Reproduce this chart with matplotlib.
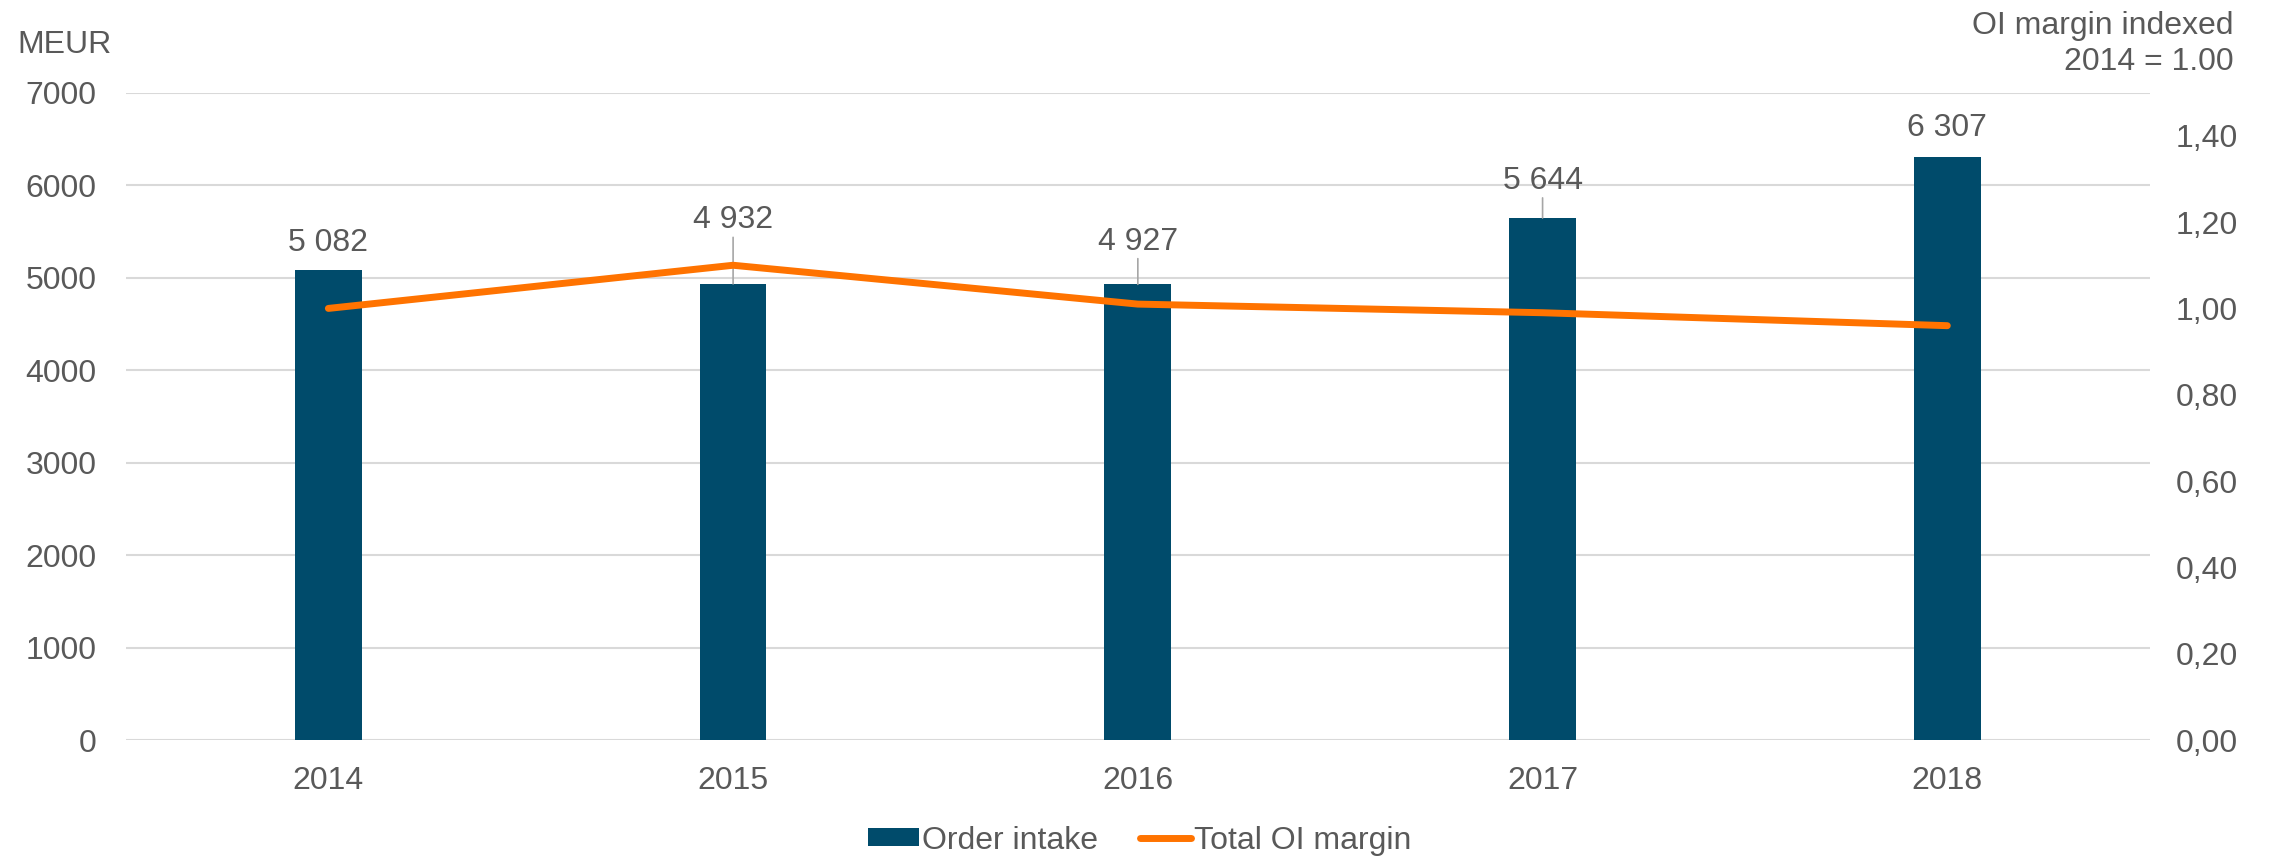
#!/usr/bin/env python
import matplotlib
matplotlib.use("Agg")
import matplotlib.pyplot as plt
from matplotlib.patches import Patch
from matplotlib.lines import Line2D
from matplotlib.ticker import FuncFormatter, MultipleLocator

years = ["2014", "2015", "2016", "2017", "2018"]
order_intake = [5082, 4932, 4927, 5644, 6307]
oi_margin = [1.00, 1.10, 1.01, 0.99, 0.96]

# label lift above the bar top (points); leader line drawn when lifted more
label_lift = [9, 35, 20, 16, 10]

BLUE = "#004b6b"
ORANGE = "#ff7300"
GRID = "#d9d9d9"
TEXT = "#595959"
FS = 23

plt.rcParams["font.family"] = ["Liberation Sans", "DejaVu Sans"]


def thousands(v, pos=None):
    return f"{int(v):,}".replace(",", " ")


def main():
    fig = plt.figure(figsize=(22.7, 8.56), dpi=100)
    ax = fig.add_axes([0.0555, 0.1355, 0.8915, 0.7563])
    ax2 = ax.twinx()

    x = list(range(len(years)))
    ax.bar(x, order_intake, width=0.165, color=BLUE, zorder=2)
    ax.set_xlim(-0.5, len(years) - 0.5)
    ax.set_ylim(0, 7000)
    ax.yaxis.set_major_locator(MultipleLocator(1000))
    ax.set_xticks(x)
    ax.set_xticklabels(years)
    ax.grid(axis="y", color=GRID, linewidth=1.5, zorder=0)
    ax.set_axisbelow(True)
    for s in ax.spines.values():
        s.set_visible(False)
    for s in ax2.spines.values():
        s.set_visible(False)
    ax.tick_params(axis="both", length=0, labelsize=FS, labelcolor=TEXT)
    ax.tick_params(axis="y", pad=21)
    ax.tick_params(axis="x", pad=19)

    for xi, v, lift in zip(x, order_intake, label_lift):
        ax.annotate(thousands(v), (xi, v), xytext=(0, lift),
                    textcoords="offset points", ha="center", va="bottom",
                    fontsize=FS, color=TEXT)
        if lift > 12:
            ax.annotate("", (xi, v), xytext=(0, lift - 1.5),
                        textcoords="offset points",
                        arrowprops=dict(arrowstyle="-", color="#a6a6a6",
                                        lw=1.2, shrinkA=0, shrinkB=0))

    ax2.plot(x, oi_margin, color=ORANGE, linewidth=5,
             solid_capstyle="round", solid_joinstyle="round", zorder=3)
    ax2.set_ylim(0, 1.5)
    ax2.set_yticks([0, 0.2, 0.4, 0.6, 0.8, 1.0, 1.2, 1.4])
    ax2.yaxis.set_major_formatter(
        FuncFormatter(lambda v, p: f"{v:.2f}".replace(".", ",")))
    ax2.tick_params(axis="y", length=0, labelsize=FS, labelcolor=TEXT, pad=19)

    fig.text(0.0075, 0.948, "MEUR", fontsize=FS, color=TEXT,
             ha="left", va="center")
    fig.text(0.984, 0.970, "OI margin indexed", fontsize=FS, color=TEXT,
             ha="right", va="center")
    fig.text(0.984, 0.928, "2014 = 1.00", fontsize=FS, color=TEXT,
             ha="right", va="center")

    handles = [Patch(facecolor=BLUE, edgecolor="none"),
               Line2D([0], [0], color=ORANGE, linewidth=5,
                      solid_capstyle="round")]
    fig.legend(handles, ["Order intake", "Total OI margin"],
               loc="center", bbox_to_anchor=(0.502, 0.018), ncol=2,
               frameon=False, fontsize=FS, labelcolor=TEXT,
               handlelength=1.6, handleheight=0.5, handletextpad=0.1,
               columnspacing=1.3)

    fig.savefig("out.png", dpi=100)


if __name__ == "__main__":
    main()
